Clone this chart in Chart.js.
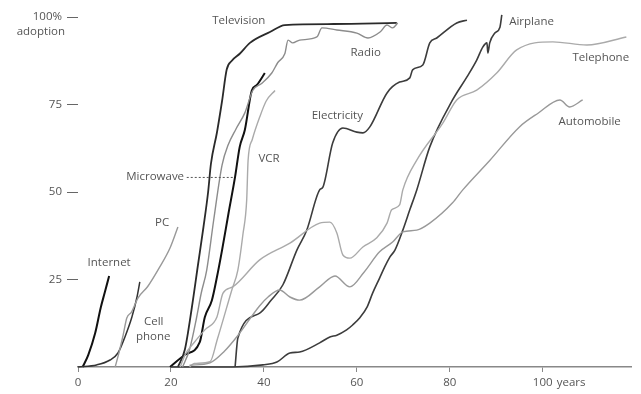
<!DOCTYPE html>
<html lang="en">
<head>
<meta charset="UTF-8">
<title>Technology adoption</title>
<script src="https://cdn.jsdelivr.net/npm/chart.js"></script>
<style>
  html, body { margin: 0; padding: 0; background: #fff; }
  #wrap { width: 641px; height: 394px; }
</style>
</head>
<body>
<div id="wrap"><canvas id="myChart"></canvas></div>
<script>
// [years, % adoption]
const internet = [[1,0],[2.2,3.4],[3.7,9.7],[4.9,17],[5.8,21.5],[6.7,26]];
const cellPhone = [[0,0],[4,0.6],[6.9,2],[8.6,4],[10.1,8.6],[11.6,14.3],[12.7,20],[13.3,24.3]];
const pc = [[8,0],[8.8,4],[9.7,9],[10.5,14],[11.5,15.7],[12.9,19.7],[15,23],[17.6,28.6],[19.8,34],[21.5,40]];
const television = [[21.5,0],[23,5],[24.5,17],[25.8,29],[27,40],[28,50],[28.6,58],[29.9,67],[31,76],[32,85],[33.1,87.5],[34.8,89.5],[37,92.6],[41.3,95.7],[44.5,97.7],[55,98],[68.6,98.3]];
const radio = [[22.5,0],[24,5],[25.5,14],[26.5,21],[27.7,27.7],[29.2,42],[31,57.7],[32.3,63.4],[34,68],[35.9,72.6],[37.6,79],[39.5,81],[41.7,84],[43,87],[44.5,89.5],[45.2,93.4],[46.2,92.6],[47.7,93.4],[51.4,94.3],[52.5,96.9],[55.7,96.3],[60,95.4],[62.4,94],[65,95.7],[66.5,97.7],[67.7,96.9],[68.8,98.3]];
const microwave = [[19.8,0],[23,3.5],[26.2,7.1],[27.3,14.3],[28.8,19],[29.9,25.7],[31,33.4],[32.4,44],[33.8,54.3],[34.8,62.9],[35.9,67.7],[37.4,79],[38.5,80.6],[40.2,84]];
const vcr = [[24,0],[25,1],[28.4,1.5],[30,8],[33.1,22],[34.4,27.7],[35.5,38],[36.3,47.7],[36.6,59],[37.5,65],[39.1,71.4],[40.5,76],[42.4,79]];
const electricity = [[33.8,0],[34.4,8.3],[39.1,15.4],[41.5,19],[44.1,23.5],[47.1,33.4],[49.2,39],[52,50.6],[52.7,51.4],[54.8,64],[57,68.3],[60,67.1],[61.3,66.9],[62.8,68.6],[66.5,78.3],[69.2,81.4],[71.4,82.6],[72,84.9],[74.2,86.3],[75.7,92.6],[77.2,94],[81.5,98.3],[83.7,99.1]];
const telephone = [[22,0],[23,3.4],[25,7],[27.3,10.6],[29.9,14.3],[31.2,21.1],[33.3,22.9],[39.1,30.6],[45.6,35.4],[52,41.1],[54.2,41.4],[55.7,38.3],[57,32],[58.5,31.1],[61.3,34.3],[64.3,36.9],[66.5,41.1],[67.5,44.9],[69.2,46.3],[69.9,50.6],[72.9,59.1],[78.5,69.7],[81.5,76.3],[85.8,79.1],[90.1,84],[94.4,90.6],[102.2,92.9],[109.5,92],[118,94.3]];
const automobile = [[24,0.5],[28.4,1.2],[31.5,4.5],[34.4,9],[39.1,17.5],[40.9,20],[43.4,22],[45.6,20],[47.7,19.1],[52,22.9],[55.3,26],[58.5,22.9],[61.5,27],[64.9,32.9],[67.7,35.7],[69.9,38.6],[72.9,39.1],[75.7,41.1],[80.6,46.9],[82.8,50.6],[88.6,59],[95,68.6],[99,72.5],[103.7,76.3],[105.8,74.3],[108.6,76.3]];
const airplane = [[20,0],[33.3,0],[39.8,0.6],[42.8,1.4],[45.6,4],[47.7,4.3],[52,6.9],[54.2,8.6],[55.7,9.1],[57.8,10.6],[59.1,12],[60.6,14],[62.2,17.1],[63.4,21.1],[64.9,25.4],[66,28.6],[67.1,31.4],[68.2,33.4],[69.9,39.1],[71.4,44.9],[72.9,50.6],[75.7,62.9],[80.6,76.3],[83.7,82.9],[85.8,87.7],[87.1,91.4],[88,92.6],[88.2,89.7],[88.6,92.6],[89.7,95.4],[90.8,97.1],[91.2,100.6]];

const xTicks = [0, 20, 40, 60, 80, 100];
const yTicks = [25, 50, 75, 100];
const yTickLabels = ['25', '50', '75', '100%'];

// series labels, placed in data units
const notes = [
  { text: 'Television', x: 34.6, y: 98.9 },
  { text: 'Radio', x: 61.9, y: 89.7 },
  { text: 'Airplane', x: 97.6, y: 98.6 },
  { text: 'Telephone', x: 112.5, y: 88.3 },
  { text: 'Automobile', x: 110.1, y: 70 },
  { text: 'Electricity', x: 55.8, y: 71.7 },
  { text: 'VCR', x: 41.1, y: 59.4 },
  { text: 'Microwave', x: 16.6, y: 54.3 },
  { text: 'PC', x: 18.1, y: 41.1 },
  { text: 'Internet', x: 6.7, y: 29.7 },
  { text: 'Cell', x: 16.3, y: 12.9 },
  { text: 'phone', x: 16.2, y: 8.6 }
];

const FONT = '"Open Sans", "DejaVu Sans", sans-serif';

function line(points, color, width) {
  return {
    data: points.map(p => ({ x: p[0], y: p[1] })),
    borderColor: color,
    borderWidth: width,
    pointRadius: 0,
    fill: false,
    clip: false,
    cubicInterpolationMode: 'monotone'
  };
}

const labelPlugin = {
  id: 'seriesLabels',
  afterDatasetsDraw(chart) {
    const { ctx, scales: { x, y } } = chart;
    ctx.save();
    ctx.font = '11.5px ' + FONT;
    ctx.fillStyle = '#555';
    ctx.textAlign = 'center';
    ctx.textBaseline = 'middle';
    notes.forEach(n => ctx.fillText(n.text, x.getPixelForValue(n.x), y.getPixelForValue(n.y)));

    // dotted leader from Microwave label to its line
    ctx.strokeStyle = '#555';
    ctx.lineWidth = 1;
    ctx.setLineDash([2, 2]);
    ctx.beginPath();
    ctx.moveTo(x.getPixelForValue(23.4), y.getPixelForValue(54.3) + 0.5);
    ctx.lineTo(x.getPixelForValue(33.3), y.getPixelForValue(54.3) + 0.5);
    ctx.stroke();
    ctx.setLineDash([]);

    // axis words
    ctx.textAlign = 'right';
    ctx.fillText('adoption', x.left - 13, y.getPixelForValue(100) + 15);
    ctx.textAlign = 'left';
    ctx.fillText('years', x.getPixelForValue(100) + 14, x.top + 16);
    ctx.restore();
  }
};

new Chart(document.getElementById('myChart'), {
  type: 'line',
  data: {
    datasets: [
      line(telephone, '#aaa', 1.4),
      line(automobile, '#999', 1.4),
      line(vcr, '#aaa', 1.4),
      line(pc, '#999', 1.4),
      line(radio, '#8c8c8c', 1.4),
      line(airplane, '#3c3c3c', 1.6),
      line(electricity, '#3c3c3c', 1.6),
      line(television, '#2a2a2a', 1.8),
      line(cellPhone, '#333', 1.5),
      line(microwave, '#111', 2),
      line(internet, '#111', 2)
    ]
  },
  options: {
    responsive: true,
    maintainAspectRatio: false,
    animation: false,
    layout: { padding: { top: 17, right: 10, left: 0, bottom: 0 } },
    plugins: { legend: { display: false }, tooltip: { enabled: false } },
    scales: {
      x: {
        type: 'linear',
        min: 0,
        max: 119,
        afterBuildTicks: s => { s.ticks = xTicks.map(v => ({ value: v })); },
        afterFit: s => { s.height = 27; },
        border: { display: true, color: '#888', width: 1.5 },
        grid: { drawOnChartArea: false, drawTicks: true, tickLength: 5, color: '#888', lineWidth: 1 },
        ticks: { padding: 4, color: '#555', maxRotation: 0, font: { family: FONT, size: 11.5 } }
      },
      y: {
        min: 0,
        max: 100,
        afterBuildTicks: s => { s.ticks = yTicks.map(v => ({ value: v })); },
        afterFit: s => { s.width = 78; },
        border: { display: false },
        grid: { drawOnChartArea: false, drawTicks: true, tickLength: 11, color: '#666', lineWidth: 1 },
        ticks: {
          padding: 5,
          color: '#555',
          font: { family: FONT, size: 11.5 },
          callback: (v, i) => yTickLabels[i]
        }
      }
    }
  },
  plugins: [labelPlugin]
});
</script>
</body>
</html>
